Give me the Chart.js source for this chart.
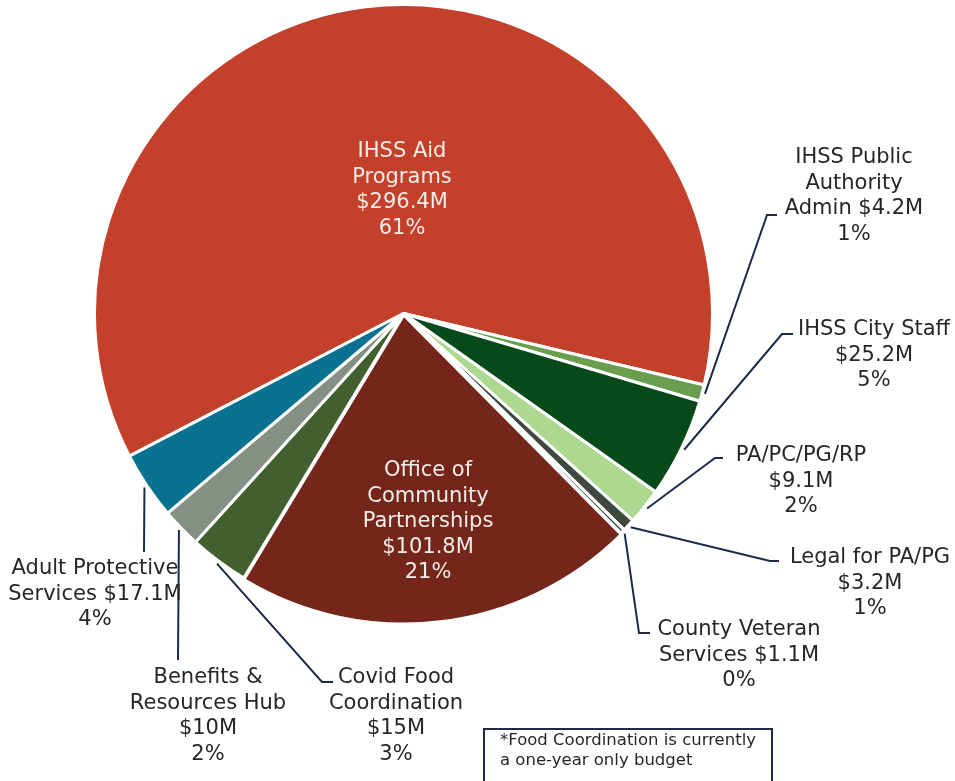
<!DOCTYPE html>
<html>
<head>
<meta charset="utf-8">
<script src="https://cdn.jsdelivr.net/npm/chart.js@4.4.1/dist/chart.umd.min.js"></script>
<style>
  html, body { margin: 0; padding: 0; background: #fff; }
  #wrap { position: relative; width: 955px; height: 781px; overflow: hidden; }
  #note { position: absolute; left: 483px; top: 728px; width: 290px; height: 60px; border: 2px solid #1d2b4a;
          box-sizing: border-box; font: 16.5px 'DejaVu Sans'; color: #262626; padding: 0 0 0 15px; line-height: 20px; }
</style>
</head>
<body>
<div id="wrap">
  <canvas id="chart1"></canvas>
  <div id="note">*Food Coordination is currently<br>a one-year only budget</div>
</div>
<script>
const categories = ['IHSS Aid Programs', 'IHSS Public Authority Admin', 'IHSS City Staff', 'PA/PC/PG/RP',
  'Legal for PA/PG', 'County Veteran Services', 'Office of Community Partnerships',
  'Covid Food Coordination', 'Benefits & Resources Hub', 'Adult Protective Services'];
const budgetMillions = [296.4, 4.2, 25.2, 9.1, 3.2, 1.1, 101.8, 15, 10, 17.1];
const sliceColors = ['#c3402b', '#6a9e4e', '#074a1a', '#acd98f', '#3f4a3e', '#2e3a30',
  '#74261a', '#425f2f', '#839083', '#0a7190'];

// how each label wraps: {v} = dollar amount, {p} = share of total
const labelLines = [
  ['IHSS Aid', 'Programs', '{v}', '{p}'],
  ['IHSS Public', 'Authority', 'Admin {v}', '{p}'],
  ['IHSS City Staff', '{v}', '{p}'],
  ['PA/PC/PG/RP', '{v}', '{p}'],
  ['Legal for PA/PG', '{v}', '{p}'],
  ['County Veteran', 'Services {v}', '{p}'],
  ['Office of', 'Community', 'Partnerships', '{v}', '{p}'],
  ['Covid Food', 'Coordination', '{v}', '{p}'],
  ['Benefits &', 'Resources Hub', '{v}', '{p}'],
  ['Adult Protective', 'Services {v}', '{p}']
];
// label centre x / first line y, and elbow points of the leader lines
const labelPos = [[402, 151], [854, 157], [874, 329], [801, 455], [870, 557], [739, 629],
  [428, 470], [396, 677], [208, 677], [95, 568]];
const leaders = [null, [[767, 215], [777, 215]], [[782, 334], [793, 334]], [[715, 458], [723, 458]],
  [[770, 561], [779, 561]], [[639, 633], [650, 633]], null, [[322, 682], [333, 682]],
  [[178, 660]], [[144, 552]]];

const pieLabels = {
  id: 'pieLabels',
  afterDatasetsDraw(chart) {
    const ctx = chart.ctx;
    const arcs = chart.getDatasetMeta(0).data;
    const total = budgetMillions.reduce((a, b) => a + b, 0);
    ctx.save();
    ctx.strokeStyle = '#1d2b4a';
    ctx.lineWidth = 2;
    arcs.forEach((arc, i) => {
      if (!leaders[i]) return;
      const mid = (arc.startAngle + arc.endAngle) / 2;
      const r = arc.outerRadius + 3;
      ctx.beginPath();
      ctx.moveTo(arc.x + Math.cos(mid) * r, arc.y + Math.sin(mid) * r);
      leaders[i].forEach(p => ctx.lineTo(p[0], p[1]));
      ctx.stroke();
    });
    ctx.font = '21px "DejaVu Sans"';
    ctx.textAlign = 'center';
    ctx.textBaseline = 'middle';
    labelLines.forEach((lines, i) => {
      const v = '$' + budgetMillions[i] + 'M';
      const p = Math.round(budgetMillions[i] / total * 100) + '%';
      ctx.fillStyle = leaders[i] ? '#262626' : '#f4ece8';
      lines.forEach((t, k) => {
        ctx.fillText(t.replace('{v}', v).replace('{p}', p), labelPos[i][0], labelPos[i][1] + 1 + k * 25.5);
      });
    });
    ctx.restore();
  }
};

new Chart(document.getElementById('chart1').getContext('2d'), {
  type: 'pie',
  data: {
    labels: categories,
    datasets: [{
      data: budgetMillions,
      backgroundColor: sliceColors,
      borderColor: '#ffffff',
      borderWidth: 3,
      hoverBorderWidth: 3,
      offset: [0, 0, 0, 0, 0, 0, 6, 0, 0, 0],
      hoverOffset: 0
    }]
  },
  options: {
    responsive: true,
    maintainAspectRatio: false,
    animation: false,
    events: [],
    rotation: 242.5,
    layout: { padding: { left: 90, top: 0, right: 238, bottom: 154 } },
    plugins: { legend: { display: false }, tooltip: { enabled: false } }
  },
  plugins: [pieLabels]
});
</script>
</body>
</html>
